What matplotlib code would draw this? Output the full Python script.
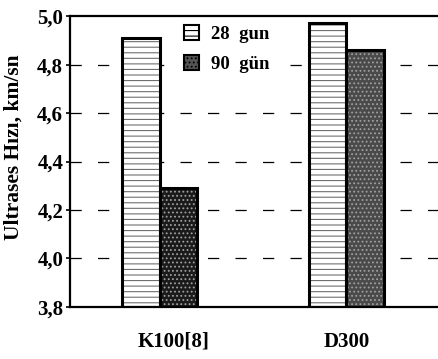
import numpy as np
import matplotlib.pyplot as plt
import matplotlib.transforms as mtransforms
from matplotlib.patches import Patch

# veriler
gruplar = ['K100[8]', 'D300']
gun28 = [4.91, 4.97]
gun90 = [4.29, 4.86]
seri_adlari = ['28  gun', '90  gün']
y_ticks = [3.8, 4.0, 4.2, 4.4, 4.6, 4.8, 5.0]
y_etiket = ['3,8', '4,0', '4,2', '4,4', '4,6', '4,8', '5,0']

plt.rcParams['font.family'] = ['Liberation Serif', 'DejaVu Serif']
plt.rcParams['font.weight'] = 'bold'
plt.rcParams['hatch.linewidth'] = 0.8

fig = plt.figure(figsize=(4.38, 3.59), dpi=100)
ax = fig.add_axes([0.16, 0.145, 0.84, 0.81])

x = np.arange(len(gruplar))
w = 0.2
alt = 3.8

# izgara
for yt in y_ticks[1:-1]:
    ax.axhline(yt, color='black', lw=0.9, ls=(0, (9, 13)), zorder=0)

# 28 gun: beyaz, yatay tarama
h1 = np.array(gun28) - alt
ax.bar(x - w / 2, h1, w, bottom=alt, color='white', edgecolor='#707070',
       hatch='---', lw=0, zorder=2)
ax.bar(x - w / 2, h1, w, bottom=alt, fill=False, edgecolor='black', lw=2.2, zorder=3)

# 90 gun: koyu noktali
h2 = np.array(gun90) - alt
ax.bar(x + w / 2, h2, w, bottom=alt, color=['#1a1a1a', '#4a4a4a'], edgecolor='#a0a0a0',
       hatch='....', lw=0, zorder=2)
ax.bar(x + w / 2, h2, w, bottom=alt, fill=False, edgecolor='black', lw=2.2, zorder=3)

ax.set_xlim(-0.48, 1.49)
ax.set_ylim(3.8, 5.0)
ax.set_yticks(y_ticks)
ax.set_yticklabels(y_etiket, fontsize=15, fontweight='bold')
ax.set_xticks(x)
ax.set_xticklabels(gruplar, fontsize=15, fontweight='bold')
ax.tick_params(axis='x', length=0, pad=18)
ax.tick_params(axis='y', direction='out', length=3, width=1.2, pad=2)
ax.spines['right'].set_visible(False)
for s in ['left', 'top', 'bottom']:
    ax.spines[s].set_linewidth(1.6)

# ilk grup etiketi biraz saga kayik
lbl = ax.get_xticklabels()[0]
lbl.set_transform(lbl.get_transform() + mtransforms.ScaledTranslation(0.14, 0, fig.dpi_scale_trans))

ax.set_ylabel('Ultrases Hızı, km/sn', fontsize=15.5, fontweight='bold', labelpad=4)
ax.yaxis.set_label_coords(-0.125, 0.55)

kutular = [Patch(facecolor='white', edgecolor='black', hatch='---', lw=1.5),
           Patch(facecolor='#555555', edgecolor='black', hatch='....', lw=1.5)]
leg = ax.legend(kutular, seri_adlari, loc='upper left', bbox_to_anchor=(0.27, 1.02),
                frameon=True, facecolor='white', edgecolor='none', framealpha=1,
                fancybox=False, borderpad=0.3,
                handlelength=0.8, handleheight=0.8,
                handletextpad=0.6, labelspacing=0.65,
                prop={'weight': 'bold', 'size': 13.5})
leg.set_zorder(5)

fig.savefig('out.png', dpi=100)
